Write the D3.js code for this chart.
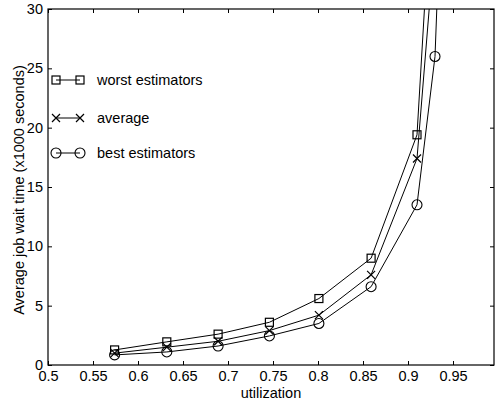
<!DOCTYPE html>
<html><head><meta charset="utf-8">
<script src="https://cdn.jsdelivr.net/npm/d3@7"></script>
<style>body{margin:0;background:#fff}svg{display:block}text{font-family:"Liberation Sans",Arial,sans-serif;fill:#000}</style>
</head><body><svg id="c" width="496" height="402"></svg>
<script>
const utilization = [0.574, 0.632, 0.689, 0.746, 0.801, 0.859, 0.910, 0.930, 0.940];
const worstEstimators = [1.27, 1.95, 2.6, 3.6, 5.6, 9.0, 19.4, 45, null];
const average = [1.0, 1.5, 2.0, 2.9, 4.2, 7.6, 17.4, 36, null];
const bestEstimators = [0.85, 1.1, 1.6, 2.45, 3.5, 6.6, 13.5, 26.0, 46];
const xTicks = [0.5, 0.55, 0.6, 0.65, 0.7, 0.75, 0.8, 0.85, 0.9, 0.95];
const yTicks = [0, 5, 10, 15, 20, 25, 30];
const seriesNames = ["worst estimators", "average", "best estimators"];
const seriesMarkers = ["square", "cross", "circle"];

const svg = d3.select("#c");
const L = 48, R = 494, T = 9, B = 365;
const x = d3.scaleLinear().domain([0.5, 1.0]).range([L, 498]);
const y = d3.scaleLinear().domain([0, 30]).range([B, T]);
const FS = "14.5px";

svg.append("defs").append("clipPath").attr("id","clip")
  .append("rect").attr("x",L).attr("y",T).attr("width",R-L).attr("height",B-T);

// frame
svg.append("rect").attr("x",L).attr("y",T).attr("width",R-L).attr("height",B-T)
  .attr("fill","none").attr("stroke","#000").attr("stroke-width",1.2);

// axes
const xb = svg.append("g").attr("transform",`translate(0,${B})`)
  .call(d3.axisBottom(x).tickValues(xTicks).tickSizeInner(-4).tickSizeOuter(0).tickPadding(6).tickFormat(d=>String(d)));
const xt = svg.append("g").attr("transform",`translate(0,${T})`)
  .call(d3.axisTop(x).tickValues(xTicks).tickSizeInner(-4).tickSizeOuter(0).tickFormat(""));
const yl = svg.append("g").attr("transform",`translate(${L},0)`)
  .call(d3.axisLeft(y).tickValues(yTicks).tickSizeInner(-4).tickSizeOuter(0).tickPadding(5).tickFormat(d=>String(d)));
const yr = svg.append("g").attr("transform",`translate(${R},0)`)
  .call(d3.axisRight(y).tickValues(yTicks).tickSizeInner(-4).tickSizeOuter(0).tickFormat(""));
[xb,xt,yl,yr].forEach(g=>{
  g.select(".domain").remove();
  g.selectAll("line").attr("stroke","#000");
  g.selectAll("text").style("font-size",FS).attr("font-family",null);
});

// labels
svg.append("text").attr("x",(L+R)/2).attr("y",398).attr("text-anchor","middle")
  .style("font-size",FS).text("utilization");
svg.append("text").attr("transform",`translate(24,${(T+B)/2 + 3}) rotate(-90)`).attr("text-anchor","middle")
  .style("font-size",FS).text("Average job wait time (x1000 seconds)");

function drawMarker(g, type, cx, cy){
  if(type==="square") g.append("rect").attr("x",cx-4).attr("y",cy-4).attr("width",8).attr("height",8)
    .attr("fill","none").attr("stroke","#000").attr("stroke-width",1.2);
  else if(type==="circle") g.append("circle").attr("cx",cx).attr("cy",cy).attr("r",5)
    .attr("fill","none").attr("stroke","#000").attr("stroke-width",1.1);
  else g.append("path").attr("d",`M${cx-4},${cy-4}L${cx+4},${cy+4}M${cx-4},${cy+4}L${cx+4},${cy-4}`)
    .attr("stroke","#000").attr("stroke-width",1.2);
}

const plot = svg.append("g").attr("clip-path","url(#clip)");
const allSeries = [worstEstimators, average, bestEstimators];
const line = d3.line().defined(d=>d[1]!=null).x(d=>x(d[0])).y(d=>y(d[1]));
allSeries.forEach((vals,i)=>{
  const pts = utilization.map((u,j)=>[u, vals[j]]);
  plot.append("path").attr("d", line(pts)).attr("fill","none").attr("stroke","#000").attr("stroke-width",1);
  pts.filter(p=>p[1]!=null).forEach(p=>drawMarker(plot, seriesMarkers[i], x(p[0]), y(p[1])));
});

// legend
const legY = [80, 118, 153];
seriesNames.forEach((name,i)=>{
  const g = svg.append("g");
  g.append("line").attr("x1",56).attr("x2",80).attr("y1",legY[i]).attr("y2",legY[i]).attr("stroke","#000");
  drawMarker(g, seriesMarkers[i], 56, legY[i]);
  drawMarker(g, seriesMarkers[i], 80, legY[i]);
  g.append("text").attr("x",97).attr("y",legY[i]+5).style("font-size",FS).text(name);
});
</script></body></html>
